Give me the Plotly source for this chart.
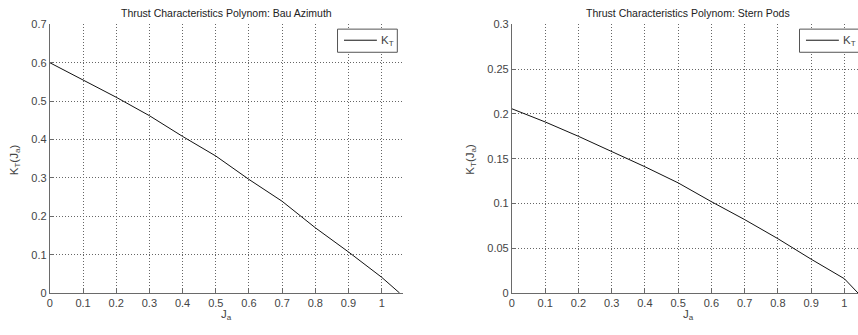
import plotly.graph_objects as go

# ---- data ----
J_bau = [0.0, 0.1, 0.2, 0.3, 0.4, 0.5, 0.6, 0.7, 0.8, 0.9, 1.0, 1.054]
KT_bau = [0.600, 0.556, 0.510, 0.462, 0.408, 0.357, 0.296, 0.239, 0.170, 0.107, 0.041, 0.0]

J_pod = [0.0, 0.1, 0.2, 0.3, 0.4, 0.5, 0.6, 0.7, 0.8, 0.9, 1.0, 1.041]
KT_pod = [0.2057, 0.191, 0.175, 0.158, 0.141, 0.123, 0.102, 0.082, 0.0607, 0.0378, 0.016, 0.0]

x_ticks = [0, 0.1, 0.2, 0.3, 0.4, 0.5, 0.6, 0.7, 0.8, 0.9, 1]
x_ticktext = ["0", "0.1", "0.2", "0.3", "0.4", "0.5", "0.6", "0.7", "0.8", "0.9", "1"]
y1_ticks = [0, 0.1, 0.2, 0.3, 0.4, 0.5, 0.6, 0.7]
y1_ticktext = ["0", "0.1", "0.2", "0.3", "0.4", "0.5", "0.6", "0.7"]
y2_ticks = [0, 0.05, 0.1, 0.15, 0.2, 0.25, 0.3]
y2_ticktext = ["0", "0.05", "0.1", "0.15", "0.2", "0.25", "0.3"]

titles = ["Thrust Characteristics Polynom: Bau Azimuth",
          "Thrust Characteristics Polynom: Stern Pods"]
legend_name = "K<sub>T</sub>"

W, H = 858, 335
FONT = "Liberation Sans, Arial, sans-serif"
TXT = "#444444"

def px(x):
    return x / W

def py(y):
    return 1 - y / H

fig = go.Figure()
fig.add_trace(go.Scatter(x=J_bau, y=KT_bau, mode="lines", line=dict(color="#111111", width=1),
                         xaxis="x", yaxis="y", showlegend=False))
fig.add_trace(go.Scatter(x=J_pod, y=KT_pod, mode="lines", line=dict(color="#111111", width=1),
                         xaxis="x2", yaxis="y2", showlegend=False))

ax_common = dict(showline=True, linecolor="#6a6a6a", linewidth=1, mirror=False,
                 showgrid=True, gridcolor="#666666", griddash="1px,2px", gridwidth=1,
                 zeroline=False, ticks="inside", ticklen=4, tickcolor="#6a6a6a",
                 tickfont=dict(family=FONT, size=11, color=TXT), fixedrange=True)

ydom = [py(297.7), py(19)]
fig.update_layout(
    width=W, height=H,
    margin=dict(l=0, r=0, t=0, b=0),
    paper_bgcolor="white", plot_bgcolor="white",
    xaxis=dict(domain=[px(47), px(401)], range=[0, 1.063], tickvals=x_ticks, ticktext=x_ticktext,
               anchor="y", **ax_common),
    yaxis=dict(domain=ydom, range=[0, 0.7], tickvals=y1_ticks, ticktext=y1_ticktext,
               anchor="x", **ax_common),
    xaxis2=dict(domain=[px(510.7), 1.0], range=[0, 1.041], tickvals=x_ticks, ticktext=x_ticktext,
                anchor="y2", **ax_common),
    yaxis2=dict(domain=ydom, range=[0, 0.3], tickvals=y2_ticks, ticktext=y2_ticktext,
                anchor="x2", **ax_common),
)

annotations = []
shapes = []
# titles
for cx, t in [((47 + 401) / 2, titles[0]), ((510.7 + 865) / 2, titles[1])]:
    annotations.append(dict(x=px(cx), y=py(7), xref="paper", yref="paper", text=t, showarrow=False,
                            xanchor="center", yanchor="middle",
                            font=dict(family=FONT, size=10.5, color="#222222")))
# x labels
for cx in [(47 + 401) / 2, (510.7 + 865) / 2]:
    annotations.append(dict(x=px(cx), y=py(320), xref="paper", yref="paper", text="J<sub>a</sub>",
                            showarrow=False, xanchor="center", yanchor="middle",
                            font=dict(family=FONT, size=11.5, color=TXT)))
# y labels
for cx in [12, 470]:
    annotations.append(dict(x=px(cx), y=py(159), xref="paper", yref="paper",
                            text="K<sub>T</sub>(J<sub>a</sub>)", textangle=-90,
                            showarrow=False, xanchor="center", yanchor="middle",
                            font=dict(family=FONT, size=11.5, color=TXT)))
# legends
for lx in [335.7, 799.3]:
    shapes.append(dict(type="rect", xref="paper", yref="paper", x0=px(lx), x1=px(lx + 60),
                       y0=py(48), y1=py(24), line=dict(color="#555555", width=1), fillcolor="white",
                       layer="above"))
    shapes.append(dict(type="line", xref="paper", yref="paper", x0=px(lx + 6.5), x1=px(lx + 39.5),
                       y0=py(35.5), y1=py(35.5), line=dict(color="#111111", width=1), layer="above"))
    annotations.append(dict(x=px(lx + 41.5), y=py(36), xref="paper", yref="paper", text=legend_name,
                            showarrow=False, xanchor="left", yanchor="middle",
                            font=dict(family=FONT, size=11.5, color=TXT)))

fig.update_layout(annotations=annotations, shapes=shapes)
fig.write_html("out.html")
